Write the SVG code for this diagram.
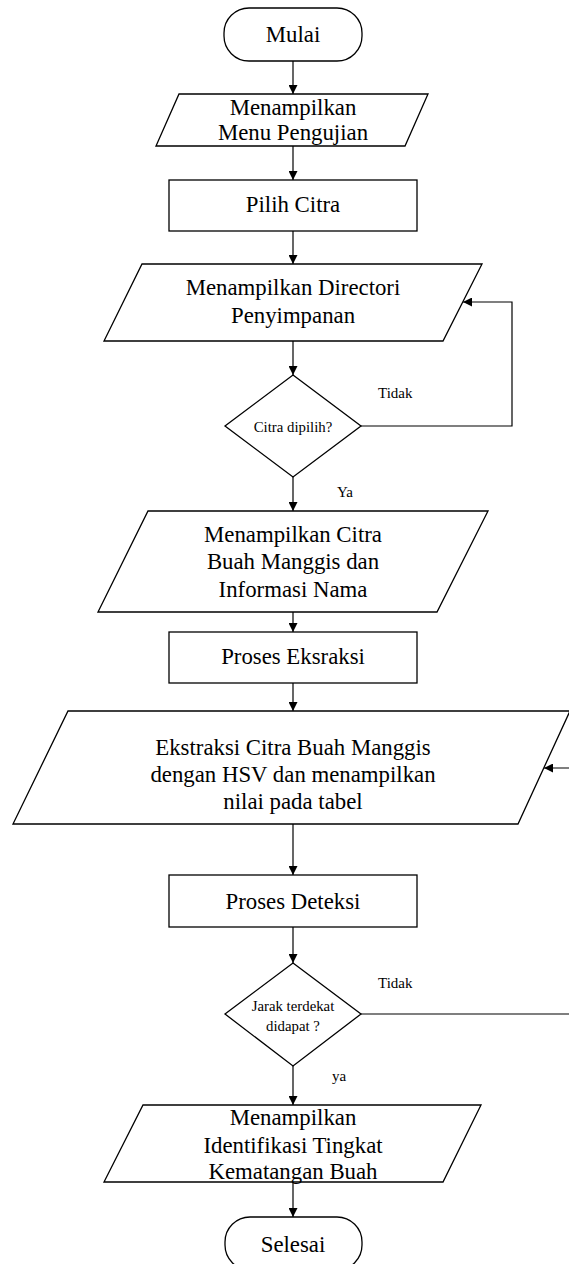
<svg xmlns="http://www.w3.org/2000/svg" width="569" height="1264" viewBox="0 0 569 1264">
  <style>
    .shape { fill: #ffffff; stroke: #000000; stroke-width: 1.3; }
    .edge { fill: none; stroke: #000000; stroke-width: 1.2; }
    .t { font-family: "Liberation Serif", "Times New Roman", serif; font-size: 22.8px; fill: #000000; text-anchor: middle; }
    .s { font-family: "Liberation Serif", "Times New Roman", serif; font-size: 15px; fill: #000000; }
    .sd { font-family: "Liberation Serif", "Times New Roman", serif; font-size: 14.8px; fill: #000000; text-anchor: middle; }
  </style>
  <defs>
    <marker id="arrow" viewBox="0 0 10 10" refX="10" refY="5" markerWidth="9" markerHeight="9" markerUnits="userSpaceOnUse" orient="auto">
      <path d="M0,0 L10,5 L0,10 Z" fill="#000000"/>
    </marker>
  </defs>
  <rect width="569" height="1264" fill="#ffffff"/>

  <!-- connectors -->
  <g id="connectors">
    <path class="edge" d="M293,61 V94" marker-end="url(#arrow)"/>
    <path class="edge" d="M293,146 V180" marker-end="url(#arrow)"/>
    <path class="edge" d="M293,231 V264" marker-end="url(#arrow)"/>
    <path class="edge" d="M293,341 V375" marker-end="url(#arrow)"/>
    <path class="edge" d="M293,477 V511" marker-end="url(#arrow)"/>
    <path class="edge" d="M293,612 V632" marker-end="url(#arrow)"/>
    <path class="edge" d="M293,683 V711" marker-end="url(#arrow)"/>
    <path class="edge" d="M293,824 V875" marker-end="url(#arrow)"/>
    <path class="edge" d="M293,927 V963" marker-end="url(#arrow)"/>
    <path class="edge" d="M293,1066 V1105" marker-end="url(#arrow)"/>
    <path class="edge" d="M293,1182 V1217" marker-end="url(#arrow)"/>
    <!-- "Tidak" loop back to directory listing -->
    <path class="edge" d="M361,426 H512 V302 H463" marker-end="url(#arrow)"/>
    <!-- "Tidak" loop back to extraction -->
    <path class="edge" d="M361,1014 H585 V768 H544" marker-end="url(#arrow)"/>
    <text class="s" x="378" y="398">Tidak</text>
    <text class="s" x="337" y="497">Ya</text>
    <text class="s" x="378" y="988">Tidak</text>
    <text class="s" x="332" y="1081">ya</text>
  </g>

  <g id="mulai">
    <rect class="shape" x="224" y="8" width="138" height="53" rx="25" ry="25"/>
    <text class="t" x="293" y="42">Mulai</text>
  </g>

  <g id="menu-pengujian">
    <polygon class="shape" points="179,94 428,94 405,146 156,146"/>
    <text class="t" x="293" y="115">Menampilkan</text>
    <text class="t" x="293" y="140">Menu Pengujian</text>
  </g>

  <g id="pilih-citra">
    <rect class="shape" x="169" y="180" width="248" height="51"/>
    <text class="t" x="293" y="212">Pilih Citra</text>
  </g>

  <g id="directori">
    <polygon class="shape" points="142,264 482,264 443,341 104,341"/>
    <text class="t" x="293" y="295">Menampilkan Directori</text>
    <text class="t" x="293" y="323">Penyimpanan</text>
  </g>

  <g id="citra-dipilih">
    <polygon class="shape" points="293,375 361,426 293,477 225,426"/>
    <text class="sd" x="293" y="432">Citra dipilih?</text>
  </g>

  <g id="tampil-citra">
    <polygon class="shape" points="148,511 488,511 437,612 98,612"/>
    <text class="t" x="293" y="542">Menampilkan Citra</text>
    <text class="t" x="293" y="569">Buah Manggis dan</text>
    <text class="t" x="293" y="597">Informasi Nama</text>
  </g>

  <g id="proses-ekstraksi">
    <rect class="shape" x="169" y="632" width="248" height="51"/>
    <text class="t" x="293" y="664">Proses Eksraksi</text>
  </g>

  <g id="ekstraksi-hsv">
    <polygon class="shape" points="68,711 570,711 518,824 13,824"/>
    <text class="t" x="293" y="755">Ekstraksi Citra Buah Manggis</text>
    <text class="t" x="293" y="782">dengan HSV dan menampilkan</text>
    <text class="t" x="293" y="809">nilai pada tabel</text>
  </g>

  <g id="proses-deteksi">
    <rect class="shape" x="169" y="875" width="248" height="52"/>
    <text class="t" x="293" y="909">Proses Deteksi</text>
  </g>

  <g id="jarak-terdekat">
    <polygon class="shape" points="293,963 361,1014 293,1066 225,1014"/>
    <text class="sd" x="293" y="1011">Jarak terdekat</text>
    <text class="sd" x="293" y="1031">didapat ?</text>
  </g>

  <g id="identifikasi">
    <polygon class="shape" points="143,1105 481,1105 443,1182 104,1182"/>
    <text class="t" x="293" y="1125">Menampilkan</text>
    <text class="t" x="293" y="1153">Identifikasi Tingkat</text>
    <text class="t" x="293" y="1179">Kematangan Buah</text>
  </g>

  <g id="selesai">
    <rect class="shape" x="225" y="1217" width="137" height="53" rx="25" ry="25"/>
    <text class="t" x="293" y="1252">Selesai</text>
  </g>
</svg>
